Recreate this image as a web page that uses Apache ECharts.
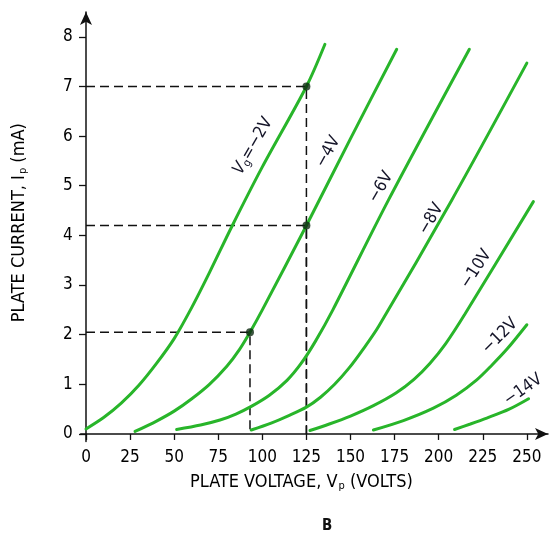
<!DOCTYPE html>
<html>
<head>
<meta charset="utf-8">
<script src="https://cdn.jsdelivr.net/npm/echarts@6/dist/echarts.min.js"></script>
<style>
html,body{margin:0;padding:0;background:#fff;}
#c{width:552px;height:540px;}
</style>
</head>
<body>
<div id="c"></div>
<script>
// ---- data ----
const xTicks = [0, 25, 50, 75, 100, 125, 150, 175, 200, 225, 250];
const yTicks = [0, 1, 2, 3, 4, 5, 6, 7, 8];

const vg2  = [[0,0.1],[10,0.33],[20,0.62],[30,0.98],[40,1.42],[50,1.92],[60,2.55],[70,3.25],[83,4.2],[100,5.38],[125,7.0],[135.5,7.85]];
const vg4  = [[27.8,0.05],[40,0.26],[50,0.46],[60,0.71],[70,1.0],[80,1.37],[87,1.7],[93,2.05],[100,2.5],[125,4.2],[150,5.95],[176.2,7.75]];
const vg6  = [[51.4,0.09],[65,0.18],[76,0.28],[85,0.4],[94,0.56],[104,0.78],[114,1.08],[122,1.42],[130,1.86],[140,2.5],[171.5,4.71],[217.4,7.75]];
const vg8  = [[93.7,0.08],[105,0.22],[115,0.37],[125,0.54],[133,0.74],[141,1.0],[149,1.32],[157,1.7],[166,2.17],[207.4,4.71],[250,7.47]];
const vg10 = [[127,0.07],[138,0.2],[150,0.36],[163,0.57],[176,0.83],[186,1.1],[195,1.42],[204,1.82],[215,2.42],[253.7,4.68]];
const vg12 = [[163,0.08],[180,0.27],[197,0.52],[210,0.78],[221.6,1.09],[230,1.38],[239,1.72],[250,2.2]];
const vg14 = [[209,0.09],[218,0.2],[227.3,0.32],[240,0.5],[251,0.71]];

const curves = [vg2, vg4, vg6, vg8, vg10, vg12, vg14];

// operating points (plate voltage, plate current)
const opPoints = [[125, 7.0], [125, 4.2], [93, 2.05]];

// curve labels: text, anchor (Vp, Ip), rotation deg
const curveLabelText = ['{i|V}{s|g}{t|=−2V}', '−4V', '−6V', '−8V', '−10V', '−12V', '−14V'];
const curveLabelAt = [[94.7,5.8],[137.3,5.68],[167.3,4.97],[195.7,4.33],[221.2,3.32],[234.8,1.97],[247.9,0.89]];
const curveLabelRot = [60, 61, 60, 60, 57, 45, 35];

const FONT = "'Liberation Sans Narrow','Arial Narrow','DejaVu Sans Condensed','Liberation Sans',sans-serif";
const GREEN = '#28b52a';

const chart = echarts.init(document.getElementById('c'), null, {renderer: 'canvas'});

const series = [];
curves.forEach(function (d, k) {
  series.push({
    type: 'line', data: d, smooth: 0.3,
    showSymbol: false, symbol: 'none', silent: true,
    lineStyle: {color: GREEN, width: 3, cap: 'round'},
    z: 3
  });
});
opPoints.forEach(function (p) {
  series.push({
    type: 'line', data: [[0, p[1]], [p[0], p[1]], [p[0], 0]],
    showSymbol: false, symbol: 'none', silent: true,
    lineStyle: {color: '#111', width: 1.5, type: [9, 5]},
    z: 2
  });
});
series.push({
  type: 'scatter', data: opPoints, symbolSize: 8,
  itemStyle: {color: '#0e2a12'}, z: 5, silent: true
});

chart.setOption({
  animation: false,
  backgroundColor: '#fff',
  grid: {left: 80.7, right: 4, top: 12, bottom: 98.6},
  xAxis: {
    type: 'value', min: -3, max: 262,
    name: '{a|PLATE VOLTAGE, V}{s|p}{a| (VOLTS)}',
    nameLocation: 'middle', nameGap: 31,
    nameTextStyle: {padding: [0, 26, 0, 0], rich: {
      a: {fontFamily: FONT, fontSize: 18, color: '#000'},
      s: {fontFamily: FONT, fontSize: 11, color: '#000', verticalAlign: 'bottom', padding: [8, 0, 0, 1]}
    }},
    axisLine: {onZero: true, lineStyle: {color: '#111', width: 1.5}, symbol: ['none', 'arrow'], symbolSize: [9, 13]},
    axisTick: {customValues: xTicks, length: 6, lineStyle: {color: '#111', width: 1.3}},
    axisLabel: {customValues: xTicks, fontFamily: FONT, fontSize: 17, color: '#000', margin: 8},
    splitLine: {show: false}
  },
  yAxis: {
    type: 'value', min: -0.15, max: 8.5,
    name: '{a|PLATE CURRENT, I}{s|p}{a| (mA)}',
    nameLocation: 'middle', nameGap: 52, nameRotate: 90,
    nameTextStyle: {padding: [0, 0, 0, 8], rich: {
      a: {fontFamily: FONT, fontSize: 18, color: '#000'},
      s: {fontFamily: FONT, fontSize: 11, color: '#000', verticalAlign: 'bottom', padding: [8, 0, 0, 1]}
    }},
    axisLine: {onZero: true, lineStyle: {color: '#111', width: 1.5}, symbol: ['none', 'arrow'], symbolSize: [9, 13]},
    axisTick: {customValues: yTicks, length: 7, lineStyle: {color: '#111', width: 1.3}},
    axisLabel: {customValues: yTicks, fontFamily: FONT, fontSize: 17, color: '#000', margin: 8},
    splitLine: {show: false}
  },
  series: series
});

// curve labels placed at data anchors
const graphics = [];
curveLabelText.forEach(function (t, k) {
  const p = chart.convertToPixel({gridIndex: 0}, curveLabelAt[k]);
  graphics.push({
    type: 'text', x: p[0], y: p[1], rotation: curveLabelRot[k] * Math.PI / 180, z: 10,
    style: {
      text: t, align: 'center', verticalAlign: 'middle',
      fontFamily: FONT, fontSize: 17, fill: '#141428',
      rich: {
        i: {fontFamily: FONT, fontSize: 17, fontStyle: 'italic', fill: '#141428'},
        s: {fontFamily: FONT, fontSize: 11, fill: '#141428', verticalAlign: 'bottom', padding: [8, 0, 0, 0]},
        t: {fontFamily: FONT, fontSize: 17, fill: '#141428'}
      }
    }
  });
});
graphics.push({
  type: 'text', left: 322, top: 519,
  style: {text: 'B', fontFamily: FONT, fontSize: 15, fontWeight: 'bold', fill: '#111'}
});
chart.setOption({graphic: graphics});
</script>
</body>
</html>
